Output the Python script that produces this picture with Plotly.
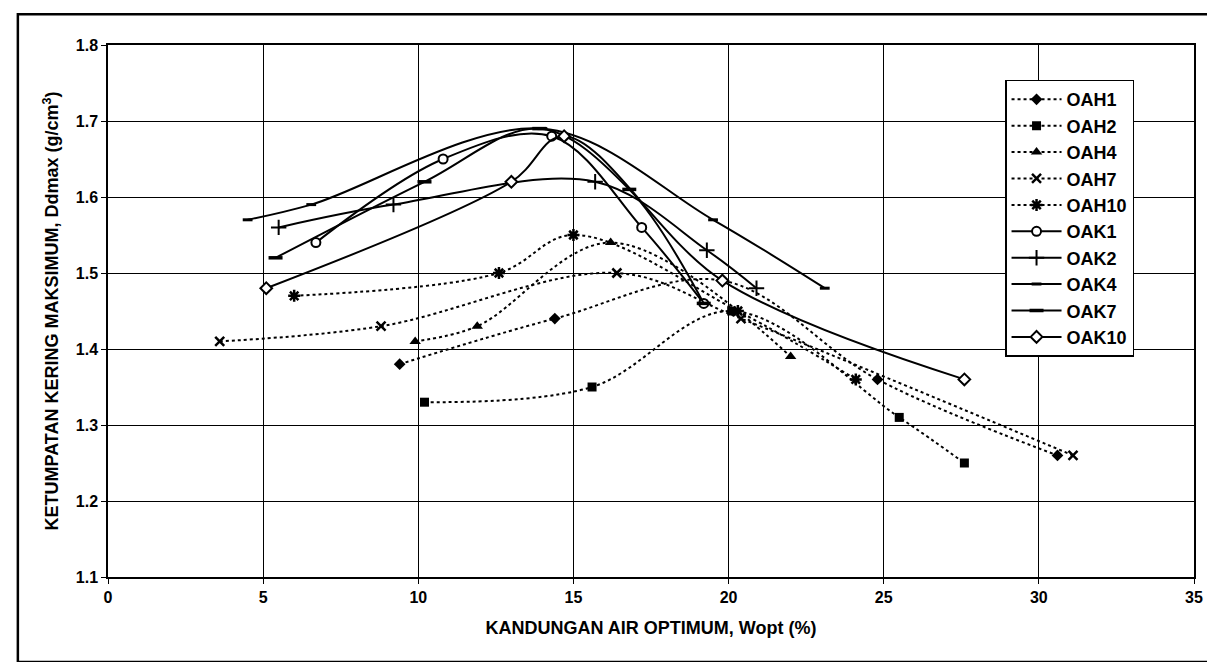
import plotly.graph_objects as go

# ---- data ----
oah1_x = [9.4, 14.4, 19.8, 24.8, 30.6]
oah1_y = [1.38, 1.44, 1.49, 1.36, 1.26]
oah2_x = [10.2, 15.6, 20.1, 25.5, 27.6]
oah2_y = [1.33, 1.35, 1.45, 1.31, 1.25]
oah4_x = [9.9, 11.9, 16.2, 22.0]
oah4_y = [1.41, 1.43, 1.54, 1.39]
oah7_x = [3.6, 8.8, 16.4, 20.4, 31.1]
oah7_y = [1.41, 1.43, 1.50, 1.44, 1.26]
oah10_x = [6.0, 12.6, 15.0, 20.3, 24.1]
oah10_y = [1.47, 1.50, 1.55, 1.45, 1.36]
oak1_x = [6.7, 10.8, 14.3, 17.2, 19.2]
oak1_y = [1.54, 1.65, 1.68, 1.56, 1.46]
oak2_x = [5.5, 9.2, 15.7, 19.3, 20.9]
oak2_y = [1.56, 1.59, 1.62, 1.53, 1.48]
oak4_x = [4.5, 6.55, 14.0, 19.5, 23.1]
oak4_y = [1.57, 1.59, 1.69, 1.57, 1.48]
oak7_x = [5.4, 10.2, 13.9, 16.8, 19.2]
oak7_y = [1.52, 1.62, 1.69, 1.61, 1.46]
oak10_x = [5.1, 13.0, 14.7, 19.8, 27.6]
oak10_y = [1.48, 1.62, 1.68, 1.49, 1.36]

x_ticks = [0, 5, 10, 15, 20, 25, 30, 35]
y_ticks = [1.1, 1.2, 1.3, 1.4, 1.5, 1.6, 1.7, 1.8]

FONT = "Liberation Sans"

series = [
    ("OAH1", oah1_x, oah1_y, "dot", dict(symbol="diamond", size=9, color="black")),
    ("OAH2", oah2_x, oah2_y, "dot", dict(symbol="square", size=9, color="black")),
    ("OAH4", oah4_x, oah4_y, "dot", dict(symbol="triangle-up", size=10, color="black")),
    ("OAH7", oah7_x, oah7_y, "dot", dict(symbol="x-thin", size=9, color="black",
                                          line=dict(color="black", width=2.5))),
    ("OAH10", oah10_x, oah10_y, "dot", dict(symbol="asterisk", size=10, color="black",
                                            line=dict(color="black", width=2.5))),
    ("OAK1", oak1_x, oak1_y, "solid", dict(symbol="circle", size=9, color="white",
                                           line=dict(color="black", width=2))),
    ("OAK2", oak2_x, oak2_y, "solid", dict(symbol="cross-thin", size=11, color="black",
                                           line=dict(color="black", width=2))),
    ("OAK4", oak4_x, oak4_y, "solid", dict(symbol="line-ew", size=7, color="black",
                                           line=dict(color="black", width=3))),
    ("OAK7", oak7_x, oak7_y, "solid", dict(symbol="line-ew", size=10, color="black",
                                           line=dict(color="black", width=3.5))),
    ("OAK10", oak10_x, oak10_y, "solid", dict(symbol="diamond", size=9, color="white",
                                              line=dict(color="black", width=2))),
]

fig = go.Figure()
for name, xs, ys, dash, marker in series:
    fig.add_trace(go.Scatter(
        x=xs, y=ys, name=name, mode="lines+markers",
        line=dict(color="black", width=2, dash=dash, shape="spline", smoothing=1.0),
        marker=marker,
    ))

axis_common = dict(
    showgrid=True, gridcolor="black", gridwidth=1.2,
    showline=True, linecolor="black", linewidth=1.5, mirror=True,
    ticks="outside", ticklen=5, tickcolor="black", tickwidth=1.2,
    zeroline=False,
    tickfont=dict(family=FONT, size=16, color="black", weight="bold"),
)

fig.update_xaxes(
    range=[0, 35], tickvals=x_ticks, ticktext=[str(v) for v in x_ticks],
    title=dict(text="KANDUNGAN AIR OPTIMUM, Wopt (%)", standoff=16,
               font=dict(family=FONT, size=18, color="black", weight="bold")),
    **axis_common,
)
fig.update_yaxes(
    range=[1.1, 1.8], tickvals=y_ticks, ticktext=[f"{v:.1f}" for v in y_ticks],
    title=dict(text="KETUMPATAN KERING MAKSIMUM, Ddmax (g/cm<sup>3</sup>)", standoff=12,
               font=dict(family=FONT, size=18, color="black", weight="bold")),
    **axis_common,
)

fig.update_layout(
    width=1215, height=662,
    margin=dict(l=100, r=29, t=37, b=93, autoexpand=False),
    paper_bgcolor="white", plot_bgcolor="white",
    showlegend=True,
    legend=dict(
        x=0.826, y=0.935, xanchor="left", yanchor="top",
        bgcolor="white", bordercolor="black", borderwidth=1.5,
        font=dict(family=FONT, size=18, color="black", weight="bold"),
        itemwidth=50, tracegroupgap=0,
    ),
    shapes=[dict(type="rect", xref="paper", yref="paper",
                 x0=-0.083, x1=1.024, y0=-0.16, y1=1.058,
                 line=dict(color="black", width=2.5), fillcolor="rgba(0,0,0,0)",
                 layer="below")],
)

fig.write_html("out.html")
